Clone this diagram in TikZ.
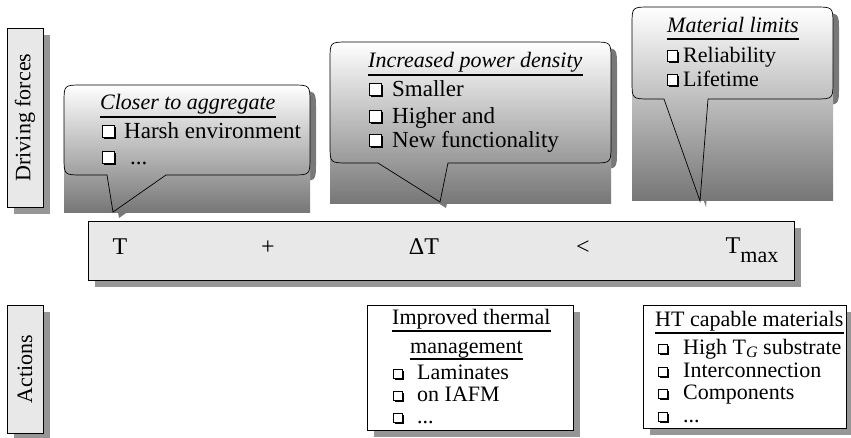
\documentclass[tikz,border=0pt]{standalone}
\usepackage{fontspec}
\usepackage{graphicx}
\setmainfont{Liberation Serif}
\usetikzlibrary{shadows}
\definecolor{boxgray}{RGB}{232,232,232}
\definecolor{shadowgray}{RGB}{150,150,150}
\definecolor{bubshadowgray}{RGB}{120,120,120}
\definecolor{gradmid}{RGB}{212,212,212}
\definecolor{gradbot}{RGB}{118,118,118}
\newcommand\fs{\fontsize{22}{26}\selectfont}
\newcommand\fsb{\fontsize{23}{27}\selectfont}
\tikzset{
  txt/.style={anchor=base west, inner sep=0pt, font=\fs},
  ttl/.style={anchor=base west, inner sep=0pt, font=\fs\itshape},
  btxt/.style={anchor=base, inner sep=0pt, font=\fontsize{24}{28}\selectfont},
  ul/.style={line width=1.5pt},
  boxshadow/.style={general shadow={fill=shadowgray, shadow xshift=7pt, shadow yshift=-7pt}},
  greybox/.style={draw=black, line width=0.8pt, fill=boxgray, inner sep=0pt, boxshadow},
  whitebox/.style={draw=black, line width=0.8pt, fill=white, inner sep=0pt, boxshadow},
  bubline/.style={draw=black, line width=0.7pt},
  grad/.style={top color=white, middle color=gradmid, bottom color=gradbot},
  bubble/.style n args={8}{insert path={
    ({#1+18},#2) -- ({#3-18},#2) .. controls (#3,#2) .. (#3,{#2+18})
    -- (#3,{#4-18}) .. controls (#3,#4) .. ({#3-18},#4)
    -- (#6,#4) -- (#7,#8) -- (#5,#4)
    -- ({#1+18},#4) .. controls (#1,#4) .. (#1,{#4-18})
    -- (#1,{#2+18}) .. controls (#1,#2) .. ({#1+18},#2) -- cycle}},
  pics/chk/.style={code={
    \fill[black] (1.8,1.8) rectangle ({#1+1.8},{-#1+1.8});
    \filldraw[fill=white, draw=black, line width=0.6pt] (0,0) rectangle (#1,-#1);
  }},
}
\begin{document}
\begin{tikzpicture}[x=1pt, y=-1pt]
\useasboundingbox (0,0) rectangle (851,438);

% ---------- side labels ----------
\node[greybox, minimum width=36pt, minimum height=179pt, font=\fs] (df) at (25,117.5) {\rotatebox{90}{Driving forces}};
\node[greybox, minimum width=36pt, minimum height=128pt, font=\fs] (act) at (25,369) {\rotatebox{90}{Actions}};

% ---------- bubble 1 ----------
\fill[bubshadowgray, shift={(6,6)}] [bubble={64}{85}{310}{175}{107}{166}{113}{212}];
\shade[grad] (64,85) rectangle (310,213);
\draw[bubline] [bubble={64}{85}{310}{175}{107}{166}{113}{212}];
\node[ttl] (b1t) at (100,110) {Closer to aggregate};
\draw[ul] ([yshift=-7pt]b1t.base west) -- ([yshift=-7pt]b1t.base east);
\pic at (102,137) {chk=12};
\node[txt, font=\fsb] (b1a) at (124,139) {Harsh environment};
\pic at (102,163) {chk=12};
\node[txt, font=\fsb] (b1b) at (130,165) {...};

% ---------- bubble 2 ----------
\fill[bubshadowgray, shift={(6,6)}] [bubble={330}{42}{611}{163}{378}{448}{440}{202}];
\shade[grad] (330,42) rectangle (611,204);
\draw[bubline] [bubble={330}{42}{611}{163}{378}{448}{440}{202}];
\node[ttl] (b2t) at (368,68) {Increased power density};
\draw[ul] ([yshift=-7pt]b2t.base west) -- ([yshift=-7pt]b2t.base east);
\pic at (369,95) {chk=12};
\node[txt, font=\fsb] (b2a) at (392,97) {Smaller};
\pic at (369,122) {chk=12};
\node[txt, font=\fsb] (b2b) at (392,124) {Higher and};
\pic at (369,146) {chk=12};
\node[txt, font=\fsb] (b2c) at (392,148) {New functionality};

% ---------- bubble 3 ----------
\fill[bubshadowgray, shift={(6,6)}] [bubble={632}{7}{833}{99}{664}{708}{700}{201}];
\shade[grad] (632,7) rectangle (833,201);
\draw[bubline] [bubble={632}{7}{833}{99}{664}{708}{700}{201}];
\node[ttl] (b3t) at (667,33) {Material limits};
\draw[ul] ([yshift=-6pt]b3t.base west) -- ([yshift=-6pt]b3t.base east);
\pic at (667,61) {chk=10.5};
\node[txt] (b3a) at (683,63) {Reliability};
\pic at (667,85) {chk=10.5};
\node[txt] (b3b) at (683,87) {Lifetime};

% ---------- main bar ----------
\node[greybox, anchor=north west, minimum width=706pt, minimum height=59pt] (bar) at (88,221) {};
\node[btxt] (eT) at (120,255) {T};
\node[btxt] (ePlus) at (268,255) {+};
\node[btxt] (eDT) at (424,255) {ΔT};
\node[btxt] (eLt) at (583,255) {<};
\node[btxt] (eTmax) at (752,254) {T\raisebox{-9pt}{\fontsize{22}{22}\selectfont max}};

% ---------- action box 1 ----------
\node[whitebox, anchor=north west, minimum width=206pt, minimum height=125pt] (a1) at (367,305) {};
\node[txt] (a1t1) at (392,324) {Improved thermal};
\draw[ul] ([yshift=-7pt]a1t1.base west) -- ([yshift=-7pt]a1t1.base east);
\node[txt] (a1t2) at (410,353) {management};
\draw[ul] ([yshift=-6pt]a1t2.base west) -- ([yshift=-6pt]a1t2.base east);
\pic at (393,378) {chk=9};
\node[txt] (a1a) at (417,379) {Laminates};
\pic at (393,400) {chk=9};
\node[txt] (a1b) at (417,401) {on IAFM};
\pic at (393,422) {chk=9};
\node[txt] (a1c) at (417,423) {...};

% ---------- action box 2 ----------
\node[whitebox, anchor=north west, minimum width=203pt, minimum height=123pt] (a2) at (643,305) {};
\node[txt] (a2t) at (655,326) {HT capable materials};
\draw[ul] ([yshift=-7pt]a2t.base west) -- ([yshift=-7pt]a2t.base east);
\pic at (658,353) {chk=9};
\node[txt] (a2a) at (683,354) {High T\raisebox{-3pt}{\fontsize{16}{16}\selectfont\itshape G} substrate};
\pic at (658,376) {chk=9};
\node[txt] (a2b) at (683,377) {Interconnection};
\pic at (658,398) {chk=9};
\node[txt] (a2c) at (683,399) {Components};
\pic at (658,421) {chk=9};
\node[txt] (a2d) at (683,422) {...};
\end{tikzpicture}
\end{document}
